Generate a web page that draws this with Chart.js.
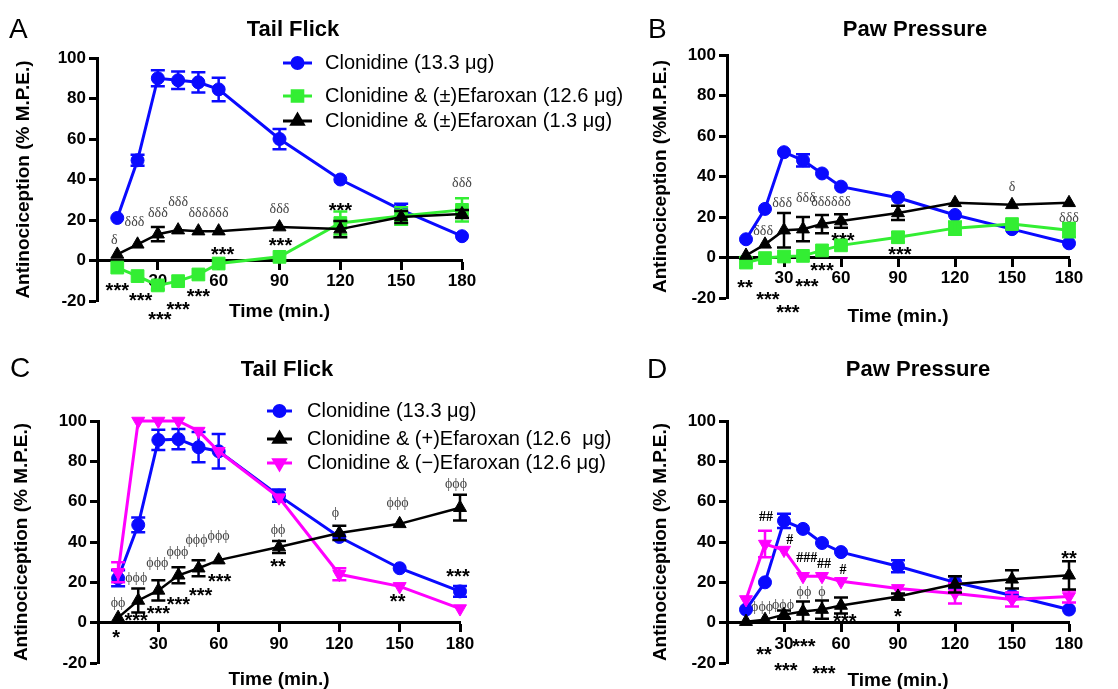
<!DOCTYPE html>
<html>
<head>
<meta charset="utf-8">
<title>Clonidine / Efaroxan antinociception</title>
<script src="https://cdn.jsdelivr.net/npm/chart.js@4/dist/chart.umd.min.js"></script>
<style>
    body { margin: 0; background: #fff; }
    #figure { position: relative; width: 1118px; height: 689px; }
    #figure canvas { position: absolute; left: 0; top: 0; }
</style>
</head>
<body>
<div id="figure">
    <canvas id="panelA" width="1118" height="689"></canvas>
    <canvas id="panelB" width="1118" height="689"></canvas>
    <canvas id="panelC" width="1118" height="689"></canvas>
    <canvas id="panelD" width="1118" height="689"></canvas>
</div>
<script>
// Time points and axis ticks (min. / % M.P.E.)
var times = [10, 20, 30, 40, 50, 60, 90, 120, 150, 180];
var xTicks = [30, 60, 90, 120, 150, 180];
var yTicks = [-20, 0, 20, 40, 60, 80, 100];

// Panel A - Tail Flick, racemic efaroxan
var tfClonidine = [21, 49.5, 90, 89, 88, 84.5, 60, 40, 25, 12];
var tfClonidineErr = [0, 2.7, 3.9, 4.3, 5, 5.8, 5, 0, 3, 0];
var tfRac126 = [-3.5, -7.7, -12.3, -10.2, -6.9, -1.5, 1.8, 18.5, 22, 25];
var tfRac126Err = [0, 0, 2, 0, 0, 0, 0, 5.7, 4.3, 5.7];
var tfRac13 = [3, 8, 13, 15, 14.5, 14.5, 16.5, 15.5, 21.5, 23];
var tfRac13Err = [0, 0, 3.5, 0, 0, 0, 0, 4, 3, 2];

// Panel B - Paw Pressure, racemic efaroxan
var ppClonidine = [9, 24, 52, 48, 41.5, 35, 29.5, 21, 14, 7];
var ppClonidineErr = [0, 0, 0, 3, 0, 0, 0, 0, 0, 0];
var ppRac126 = [-2.5, -0.3, 0.5, 0.8, 3.5, 6, 10, 14.5, 16.5, 13.5];
var ppRac126Err = [0, 0, 0, 0, 0, 0, 2.5, 3.3, 0, 3.5];
var ppRac13 = [1, 6.5, 13.5, 14, 16.5, 18, 22, 27, 26, 27];
var ppRac13Err = [0, 0, 8.5, 6, 4.5, 3.3, 3.5, 0, 0, 0];

// Panel C - Tail Flick, (+) and (-) efaroxan
var tfClonidine2 = [22, 48.5, 90.6, 91, 87, 85, 63, 42.5, 27, 15.5];
var tfClonidine2Err = [4, 3.7, 5, 5, 7.5, 8.5, 3, 0, 0, 2.7];
var tfPlus = [2.5, 11, 16, 23.5, 27, 31, 37.5, 44.5, 49, 57];
var tfPlusErr = [0, 6, 5, 4, 4, 0, 3, 3.5, 0, 6.4];
var tfMinus = [25, 100, 100, 100, 95, 85, 62, 24, 18, 7];
var tfMinusErr = [5, 0, 0, 0, 0, 0, 0, 3, 0, 0];

// Panel D - Paw Pressure, (+) and (-) efaroxan
var ppClonidine2 = [6.5, 20, 50.5, 46.5, 39.5, 35, 28, 20, 13.5, 6.5];
var ppClonidine2Err = [0, 0, 3.5, 0, 0, 0, 3, 3, 0, 0];
var ppPlus = [0.5, 1.5, 4, 5.5, 6.5, 8.5, 13, 19, 21.5, 23.5];
var ppPlusErr = [0, 0, 2, 5, 4.5, 4, 1.5, 4, 4.5, 7];
var ppMinus = [11.5, 39, 36, 23, 23, 20.5, 17, 14.5, 11.5, 13];
var ppMinusErr = [0, 6.6, 0, 0, 0, 0, 0, 5, 3.5, 3];

// Significance marks [time, value, text]
var sigA = [[8.5, 10, 'δ'], [18.5, 19, 'δδδ'], [30, 23.5, 'δδδ'], [40, 28.5, 'δδδ'], [50, 23.5, 'δδδ'],
    [60, 23.5, 'δδδ'], [90, 25.5, 'δδδ'], [180, 38, 'δδδ'], [120, 26.7, '***'], [10, -13, '***'],
    [21.5, -18, '***'], [31, -27, '***'], [40, -22, '***'], [50, -15.6, '***'], [62, 5, '***'], [90.5, 9.5, '***']];
var sigB = [[19, 12.8, 'δδδ'], [29, 26.6, 'δδδ'], [41.5, 29, 'δδδ'], [49.5, 27, 'δδδ'], [60, 27, 'δδδ'],
    [150, 34.5, 'δ'], [180, 19.5, 'δδδ'], [61, 10.5, '***'], [91, 3.5, '***'], [50, -4.5, '***'],
    [9.5, -13, '**'], [21.5, -19, '***'], [32, -25, '***'], [42, -12.5, '***']];
var sigC = [[10, 9.5, 'ϕϕ'], [19, 22, 'ϕϕϕ'], [29.5, 29.5, 'ϕϕϕ'], [39.5, 35, 'ϕϕϕ'], [49, 41, 'ϕϕϕ'],
    [60, 43, 'ϕϕϕ'], [89.5, 46, 'ϕϕ'], [118, 54, 'ϕ'], [149, 59, 'ϕϕϕ'], [178, 68.5, 'ϕϕϕ'],
    [9, -5.5, '*'], [19, 3, '***'], [30, 6.5, '***'], [40, 11, '***'], [51, 15.5, '***'], [60.5, 22.5, '***'],
    [89.5, 30, '**'], [149, 12.5, '**'], [179, 25, '***']];
var sigD = [[20.5, 52, '##'], [33, 41, '#'], [42, 32, '###'], [51, 29, '##'], [61, 26, '#'],
    [40.5, 15, 'ϕϕ'], [50, 15, 'ϕ'], [18.5, 7.5, 'ϕϕϕ'], [29.5, 8.5, 'ϕϕϕ'], [62, 2.5, '***'],
    [90, 5, '*'], [180, 34, '**'], [19.5, -14, '**'], [40.5, -10, '***'], [31, -21.5, '***'], [51, -23, '***']];

var FONT = '"Liberation Sans", Arial, sans-serif';
var SERIF = '"Liberation Serif", "DejaVu Serif", serif';
var W = 1118, H = 689;

var BLUE = '#0a0aff', GREEN = '#33ee33', BLACK = '#000000', MAGENTA = '#ff00ff';

function circleSeries(label, values, err) {
    return { label: label, values: values, err: err, color: BLUE, style: 'circle', radius: 6.5, legendRadius: 5.5, width: 3, order: 2 };
}
function squareSeries(label, values, err) {
    return { label: label, values: values, err: err, color: GREEN, style: 'rect', radius: 9, legendRadius: 7.5, width: 3, order: 1 };
}
function triangleSeries(label, values, err) {
    return { label: label, values: values, err: err, color: BLACK, style: 'triangle', radius: 7.5, legendRadius: 6.5, width: 2.5, order: 0 };
}
function downSeries(label, values, err) {
    return { label: label, values: values, err: err, color: MAGENTA, style: 'triangle', rotation: 180, radius: 7.5, legendRadius: 6.5, width: 3, order: 1 };
}

function drawMarker(c, s, x, y, r) {
    if (Chart.helpers && Chart.helpers.drawPoint) {
        Chart.helpers.drawPoint(c, { pointStyle: s.style, rotation: s.rotation || 0, radius: r, borderWidth: 1 }, x, y);
        return;
    }
    c.beginPath();
    c.arc(x, y, r, 0, Math.PI * 2);
    c.fill();
}

function buildPanel(canvasId, cfg) {
    var ctx = document.getElementById(canvasId).getContext('2d');

    var datasets = cfg.series.map(function (s) {
        return {
            label: s.label,
            data: s.values.map(function (v, i) { return { x: times[i], y: v }; }),
            err: s.err,
            borderColor: s.color,
            backgroundColor: s.color,
            pointBackgroundColor: s.color,
            pointBorderColor: s.color,
            pointStyle: s.style,
            pointRotation: s.rotation || 0,
            pointRadius: s.radius,
            pointBorderWidth: 1,
            borderWidth: s.width,
            tension: 0,
            fill: false,
            clip: false,
            order: s.order
        };
    });

    // titles, legend, error bars and significance marks
    var decor = {
        id: 'decor',
        beforeDatasetsDraw: function (chart) {
            var c = chart.ctx, xs = chart.scales.x, ys = chart.scales.y;
            c.save();
            c.textAlign = 'center';
            c.textBaseline = 'middle';
            cfg.notes.forEach(function (n) {
                var px = xs.getPixelForValue(n[0]);
                var py = ys.getPixelForValue(n[1]);
                var txt = n[2];
                if (txt.indexOf('*') >= 0) {
                    c.font = 'bold 20px ' + FONT;
                    c.fillStyle = '#000';
                    py += 5;
                } else if (txt.indexOf('#') >= 0) {
                    c.font = 'bold 14px ' + SERIF;
                    c.fillStyle = '#000';
                } else {
                    c.font = '14px ' + SERIF;
                    c.fillStyle = '#444';
                }
                c.fillText(txt, px, py);
            });
            c.restore();
        },
        afterDatasetDraw: function (chart, args) {
            var ds = chart.data.datasets[args.index];
            var ys = chart.scales.y, c = chart.ctx;
            c.save();
            c.strokeStyle = ds.borderColor;
            c.lineWidth = 2.5;
            args.meta.data.forEach(function (pt, i) {
                var e = ds.err[i];
                if (!e) return;
                var v = ds.data[i].y;
                var y0 = ys.getPixelForValue(v - e), y1 = ys.getPixelForValue(v + e);
                c.beginPath();
                c.moveTo(pt.x, y0); c.lineTo(pt.x, y1);
                c.moveTo(pt.x - 7, y0); c.lineTo(pt.x + 7, y0);
                c.moveTo(pt.x - 7, y1); c.lineTo(pt.x + 7, y1);
                c.stroke();
            });
            c.restore();
        },
        afterDraw: function (chart) {
            var c = chart.ctx;
            c.save();
            c.fillStyle = '#000';
            c.textBaseline = 'middle';
            c.textAlign = 'left';
            c.font = '28px ' + FONT;
            c.fillText(cfg.letter, cfg.letterPos[0], cfg.letterPos[1]);
            c.textAlign = 'center';
            c.font = 'bold 22px ' + FONT;
            c.fillText(cfg.title, cfg.titlePos[0], cfg.titlePos[1]);

            if (cfg.legend) {
                var lg = cfg.legend;
                lg.rows.forEach(function (idx, i) {
                    var s = cfg.series[idx], y = lg.ys[i];
                    c.strokeStyle = s.color;
                    c.fillStyle = s.color;
                    c.lineWidth = 3;
                    c.beginPath();
                    c.moveTo(lg.x0, y); c.lineTo(lg.x1, y);
                    c.stroke();
                    drawMarker(c, s, (lg.x0 + lg.x1) / 2, y, s.legendRadius);
                    c.fillStyle = '#000';
                    c.textAlign = 'left';
                    c.font = '20px ' + FONT;
                    c.fillText(s.label, lg.textX, y);
                });
            }
            c.restore();
        }
    };

    return new Chart(ctx, {
        type: 'line',
        data: { datasets: datasets },
        options: {
            responsive: false,
            animation: false,
            events: [],
            layout: {
                padding: { left: cfg.axisLeft, top: cfg.area.top, right: W - cfg.area.right, bottom: H - cfg.area.bottom }
            },
            plugins: { legend: { display: false }, tooltip: { enabled: false }, title: { display: false } },
            scales: {
                x: {
                    type: 'linear',
                    min: 0,
                    max: 180,
                    position: { y: 0 },
                    afterBuildTicks: function (axis) {
                        axis.ticks = xTicks.map(function (v) { return { value: v }; });
                    },
                    grid: { drawOnChartArea: false, drawTicks: true, tickLength: 8, tickWidth: 3, tickColor: '#000' },
                    border: { display: true, color: '#000', width: 3 },
                    ticks: { color: '#000', padding: 3, autoSkip: false, maxRotation: 0, font: { family: FONT, size: 17, weight: 'bold' } },
                    title: {
                        display: true, text: 'Time (min.)', color: '#000',
                        font: { family: FONT, size: 19, weight: 'bold' },
                        padding: { top: cfg.xTitlePad, bottom: 0 }
                    }
                },
                y: {
                    min: -20,
                    max: 100,
                    afterBuildTicks: function (axis) {
                        axis.ticks = yTicks.map(function (v) { return { value: v }; });
                    },
                    afterFit: function (axis) { axis.width = cfg.area.left - cfg.axisLeft; },
                    grid: { drawOnChartArea: false, drawTicks: true, tickLength: 8, tickWidth: 3, tickColor: '#000' },
                    border: { display: true, color: '#000', width: 3 },
                    ticks: { color: '#000', padding: 3, font: { family: FONT, size: 17, weight: 'bold' } },
                    title: {
                        display: true, text: cfg.yTitle, color: '#000',
                        font: { family: FONT, size: 19, weight: 'bold' },
                        padding: { top: 4, bottom: 4 }
                    }
                }
            }
        },
        plugins: [decor]
    });
}

buildPanel('panelA', {
    area: { left: 97, right: 462, top: 58, bottom: 301 },
    axisLeft: 8, xTitlePad: 5,
    yTitle: 'Antinociception (% M.P.E.)',
    title: 'Tail Flick', titlePos: [293, 30], letter: 'A', letterPos: [9, 30],
    series: [
        circleSeries('Clonidine (13.3 μg)', tfClonidine, tfClonidineErr),
        squareSeries('Clonidine & (±)Efaroxan (12.6 μg)', tfRac126, tfRac126Err),
        triangleSeries('Clonidine & (±)Efaroxan (1.3 μg)', tfRac13, tfRac13Err)
    ],
    legend: { rows: [0, 1, 2], ys: [63, 96, 121], x0: 283, x1: 312, textX: 325 },
    notes: sigA
});

buildPanel('panelB', {
    area: { left: 727, right: 1069, top: 55, bottom: 298 },
    axisLeft: 645, xTitlePad: 13,
    yTitle: 'Antinociception (%M.P.E.)',
    title: 'Paw Pressure', titlePos: [915, 30], letter: 'B', letterPos: [648, 30],
    series: [
        circleSeries('Clonidine (13.3 μg)', ppClonidine, ppClonidineErr),
        squareSeries('Clonidine & (±)Efaroxan (12.6 μg)', ppRac126, ppRac126Err),
        triangleSeries('Clonidine & (±)Efaroxan (1.3 μg)', ppRac13, ppRac13Err)
    ],
    legend: null,
    notes: sigB
});

buildPanel('panelC', {
    area: { left: 98, right: 460, top: 421, bottom: 663 },
    axisLeft: 6, xTitlePad: 11,
    yTitle: 'Antinociception (% M.P.E.)',
    title: 'Tail Flick', titlePos: [287, 370], letter: 'C', letterPos: [10, 369],
    series: [
        circleSeries('Clonidine (13.3 μg)', tfClonidine2, tfClonidine2Err),
        triangleSeries('Clonidine & (+)Efaroxan (12.6  μg)', tfPlus, tfPlusErr),
        downSeries('Clonidine & (−)Efaroxan (12.6 μg)', tfMinus, tfMinusErr)
    ],
    legend: { rows: [0, 1, 2], ys: [411, 439, 463], x0: 267, x1: 292, textX: 307 },
    notes: sigC
});

buildPanel('panelD', {
    area: { left: 727, right: 1069, top: 421, bottom: 663 },
    axisLeft: 645, xTitlePad: 12,
    yTitle: 'Antinociception (% M.P.E.)',
    title: 'Paw Pressure', titlePos: [918, 370], letter: 'D', letterPos: [647, 370],
    series: [
        circleSeries('Clonidine (13.3 μg)', ppClonidine2, ppClonidine2Err),
        triangleSeries('Clonidine & (+)Efaroxan (12.6  μg)', ppPlus, ppPlusErr),
        downSeries('Clonidine & (−)Efaroxan (12.6 μg)', ppMinus, ppMinusErr)
    ],
    legend: null,
    notes: sigD
});
</script>
</body>
</html>
